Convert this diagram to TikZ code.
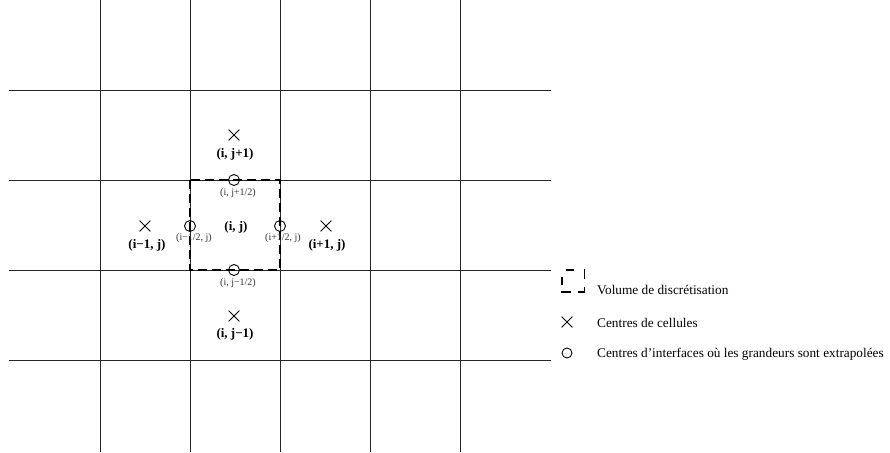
\documentclass[tikz,border=0pt]{standalone}
\usepackage{fontspec}
\setmainfont{Liberation Serif}
\usetikzlibrary{shapes.misc}
\begin{document}
\begin{tikzpicture}[x=1pt,y=-1pt,
  gridline/.style={line width=0.8pt,black!85},
  volbox/.style={line width=1.7pt,dash pattern=on 9pt off 5pt},
  legdash/.style={line width=1.8pt},
  xmark/.style={cross out,draw,line width=0.8pt,minimum size=10pt,inner sep=0pt},
  omark/.style={circle,draw,line width=0.9pt,minimum size=11pt,inner sep=0pt},
  biglab/.style={font=\fontsize{13}{15}\selectfont\bfseries,inner sep=0pt},
  smalllab/.style={font=\fontsize{10}{12}\selectfont,text=black!80,inner sep=0pt},
  leglab/.style={font=\fontsize{13.3}{15}\selectfont,anchor=west,inner sep=0pt}]
\useasboundingbox (0,0) rectangle (890,452);
% grid
\foreach \x in {100,190,280,370,460} \draw[gridline] (\x,0) -- (\x,452);
\foreach \y in {90,180,270,360} \draw[gridline] (9,\y) -- (551,\y);
% control volume
\draw[volbox] (190,180) rectangle (280,270);
% cell centres
\node[xmark] (cN) at (234,135) {};
\node[xmark] (cW) at (145,226) {};
\node[xmark] (cE) at (326,226) {};
\node[xmark] (cS) at (234,316) {};
\node[biglab] (lN) at (235,154) {(i, j+1)};
\node[biglab] (lW) at (147,245) {(i−1, j)};
\node[biglab] (lE) at (327,245) {(i+1, j)};
\node[biglab] (lC) at (236,227) {(i, j)};
\node[biglab] (lS) at (235,334) {(i, j−1)};
% interface centres
\node[omark] (fN) at (234,180) {};
\node[omark] (fS) at (234,270) {};
\node[omark] (fW) at (190,226) {};
\node[omark] (fE) at (280,226) {};
\node[smalllab] (sN) at (238,193) {(i, j+1/2)};
\node[smalllab] (sS) at (238,283) {(i, j−1/2)};
\node[smalllab] (sW) at (194,238) {(i−1/2, j)};
\node[smalllab] (sE) at (283,238) {(i+1/2, j)};
% legend: dashed volume symbol
\draw[legdash] (566,270) -- (574,270);
\draw[legdash] (562,277) -- (562,285);
\draw[legdash] (584.5,269) -- (584.5,279);
\draw[legdash] (561,292) -- (571,292);
\draw[legdash] (578,292) -- (584.5,292) -- (584.5,287);
\node[leglab] (t1) at (597,290) {Volume de discrétisation};
\node[xmark] (k2) at (567,322) {};
\node[leglab] (t2) at (597,323) {Centres de cellules};
\node[omark,minimum size=10pt] (k3) at (567,353) {};
\node[leglab] (t3) at (597,354) {Centres d’interfaces où les grandeurs sont extrapolées};
\end{tikzpicture}
\end{document}
